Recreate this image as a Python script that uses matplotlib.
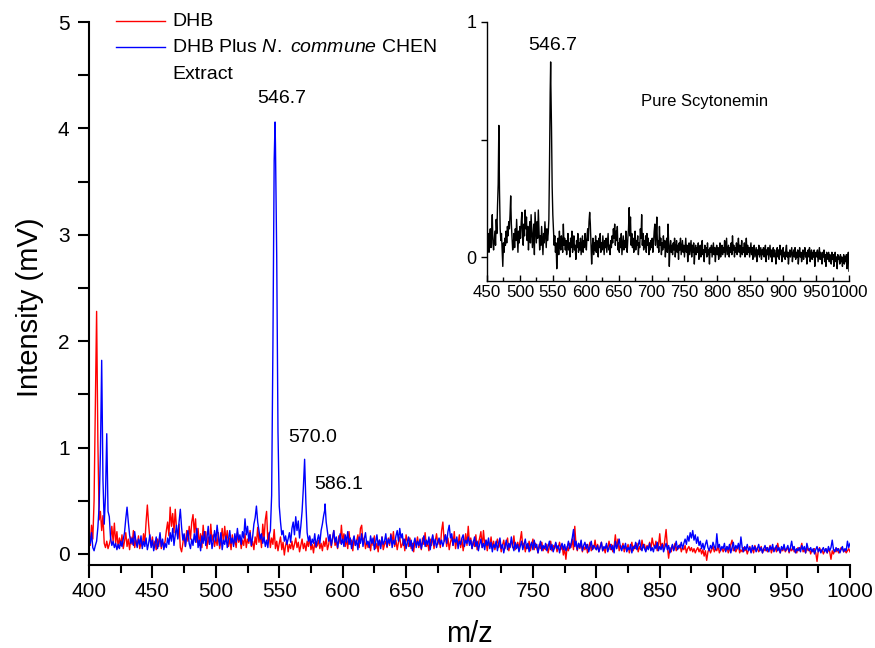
import matplotlib
matplotlib.use("Agg")
import matplotlib.pyplot as plt
from matplotlib.lines import Line2D
from matplotlib.ticker import MultipleLocator, FixedLocator
import numpy as np

plt.rcParams['font.family'] = ['Liberation Sans', 'DejaVu Sans']
plt.rcParams['mathtext.fontset'] = 'custom'
plt.rcParams['mathtext.rm'] = 'Liberation Sans'
plt.rcParams['mathtext.it'] = 'Liberation Sans:italic'

# MALDI spectra, intensity in mV, one value per m/z unit starting at the given m/z
DHB_START = 400
dhb = [
    0.20, 0.08, 0.27, 0.14, 0.50, 1.40, 2.28, 1.05, 0.32, 0.40, 0.22, 0.36, 0.10, 0.06, 0.12, 0.05, 0.09, 0.14, 0.26, 0.12,
    0.29, 0.10, 0.21, 0.06, 0.15, 0.08, 0.18, 0.05, 0.12, 0.20, 0.07, 0.14, 0.04, 0.16, 0.09, 0.22, 0.06, 0.13, 0.08, 0.17,
    0.05, 0.11, 0.07, 0.19, 0.10, 0.30, 0.46, 0.28, 0.14, 0.08, 0.16, 0.06, 0.12, 0.04, 0.14, 0.07, 0.18, 0.05, 0.11, 0.08,
    0.12, 0.22, 0.30, 0.17, 0.44, 0.26, 0.38, 0.20, 0.42, 0.24, 0.15, 0.28, 0.06, 0.02, 0.10, 0.18, 0.07, 0.22, 0.12, 0.26,
    0.14, 0.30, 0.37, 0.20, 0.33, 0.11, 0.24, 0.08, 0.19, 0.06, 0.27, 0.13, 0.21, 0.05, 0.16, 0.09, 0.28, 0.12, 0.18, 0.07,
    0.15, 0.08, 0.20, 0.05, 0.13, 0.24, 0.10, 0.26, 0.12, 0.22, 0.07, 0.15, 0.04, 0.18, 0.09, 0.14, 0.06, 0.20, 0.11, 0.16,
    0.05, 0.13, 0.08, 0.19, 0.06, 0.14, 0.10, 0.22, 0.07, 0.12, 0.04, 0.16, 0.09, 0.25, 0.11, 0.18, 0.06, 0.28, 0.14, 0.32,
    0.40, 0.12, 0.20, 0.06, 0.15, 0.09, 0.23, 0.05, 0.12, 0.03, 0.10, 0.16, 0.04, 0.11, -0.01, 0.08, 0.13, 0.02, 0.09, 0.05,
    0.12, 0.04, 0.09, 0.15, 0.06, 0.11, 0.02, 0.08, 0.14, 0.05, 0.10, 0.03, 0.12, 0.07, 0.16, 0.04, 0.09, 0.01, 0.11, 0.06,
    0.08, 0.13, 0.05, 0.10, 0.03, 0.12, 0.07, 0.15, 0.04, 0.09, 0.18, 0.06, 0.14, 0.22, 0.08, 0.12, 0.05, 0.17, 0.10, 0.27,
    0.11, 0.19, 0.07, 0.14, 0.05, 0.21, 0.09, 0.13, 0.03, 0.16, 0.08, 0.12, 0.18, 0.06, 0.24, 0.27, 0.10, 0.15, 0.05, 0.12,
    0.06, 0.11, 0.03, 0.14, 0.08, 0.17, 0.05, 0.10, 0.02, 0.13, 0.07, 0.16, 0.04, 0.09, 0.12, 0.06, 0.15, 0.08, 0.19, 0.10,
    0.21, 0.07, 0.13, 0.04, 0.11, 0.16, 0.06, 0.09, 0.14, 0.03, 0.18, 0.12, 0.07, 0.15, 0.05, 0.10, 0.02, 0.13, 0.08, 0.16,
    0.06, 0.12, 0.04, 0.15, 0.09, 0.20, 0.07, 0.11, 0.03, 0.14, 0.08, 0.17, 0.05, 0.12, 0.19, 0.09, 0.14, 0.06, 0.22, 0.30,
    0.12, 0.18, 0.07, 0.15, 0.04, 0.11, 0.16, 0.08, 0.21, 0.05, 0.13, 0.09, 0.18, 0.06, 0.14, 0.03, 0.11, 0.19, 0.08, 0.26,
    0.10, 0.15, 0.05, 0.12, 0.07, 0.18, 0.04, 0.10, 0.15, 0.21, 0.06, 0.22, 0.09, 0.13, 0.03, 0.11, 0.07, 0.16, 0.05, 0.12,
    0.04, 0.09, 0.14, 0.06, 0.11, 0.02, 0.08, 0.13, 0.05, 0.10, 0.15, 0.03, 0.09, 0.12, 0.06, 0.17, 0.04, 0.08, 0.11, 0.05,
    0.13, 0.21, 0.07, 0.10, 0.02, 0.09, 0.05, 0.12, 0.03, 0.08, 0.14, 0.04, 0.10, 0.06, 0.01, 0.09, 0.05, 0.11, 0.03, 0.07,
    0.04, 0.09, 0.01, 0.07, 0.12, 0.03, 0.08, 0.05, 0.10, 0.02, 0.06, 0.11, 0.04, 0.08, -0.01, 0.05, -0.05, 0.07, 0.03, 0.10,
    0.06, 0.14, 0.04, 0.26, 0.08, 0.03, 0.10, 0.05, 0.12, 0.02, 0.07, 0.04, 0.09, 0.01, 0.06, 0.11, 0.03, 0.08, 0.05, 0.13,
    0.04, 0.09, 0.02, 0.07, 0.11, 0.03, 0.06, 0.01, 0.08, 0.05, 0.12, 0.04, 0.09, 0.02, 0.07, 0.18, 0.05, 0.14, 0.03, 0.08,
    0.05, 0.10, 0.02, 0.07, 0.04, 0.09, 0.01, 0.06, 0.11, 0.03, 0.08, 0.05, 0.10, 0.02, 0.07, 0.04, 0.13, 0.06, 0.09, 0.03,
    0.08, 0.05, 0.11, 0.04, 0.15, 0.09, 0.06, 0.12, 0.03, 0.08, 0.19, 0.05, 0.10, 0.04, 0.13, 0.23, 0.07, -0.04, 0.06, 0.02,
    0.08, 0.04, 0.10, 0.03, 0.07, 0.05, 0.09, 0.02, 0.06, 0.04, 0.08, 0.01, 0.05, 0.07, 0.03, 0.06, 0.02, 0.05, 0.01, 0.04,
    0.06, 0.02, 0.05, 0.00, 0.04, -0.02, 0.03, -0.06, 0.02, 0.05, 0.01, 0.04, 0.07, 0.02, 0.05, 0.03, 0.08, 0.01, 0.04, 0.06,
    0.02, 0.05, 0.03, 0.07, 0.01, 0.04, 0.09, 0.13, 0.03, 0.06, 0.02, 0.05, 0.08, 0.01, 0.04, 0.02, 0.06, 0.03, 0.05, 0.00,
    0.04, 0.07, 0.02, 0.05, 0.01, 0.08, 0.03, 0.06, 0.02, 0.04, 0.07, 0.01, 0.05, 0.03, 0.06, 0.02, 0.04, 0.08, 0.01, 0.05,
    0.03, 0.06, 0.02, 0.10, 0.04, 0.01, 0.05, 0.03, 0.07, 0.02, 0.04, 0.06, 0.01, 0.05, 0.03, 0.07, 0.02, 0.04, 0.01, 0.06,
    0.03, 0.05, 0.10, 0.02, 0.04, 0.01, 0.06, 0.03, 0.05, 0.00, 0.04, 0.02, 0.05, 0.01, -0.07, 0.03, 0.06, 0.02, 0.04, 0.00,
    0.03, 0.05, 0.01, 0.04, 0.02, -0.05, 0.03, 0.00, 0.04, 0.02, 0.05, 0.01, 0.03, 0.06, 0.05, 0.02, 0.04, 0.01, 0.03, 0.05,
    0.02,
]

EXTRACT_START = 400
dhb_extract = [
    0.16, 0.10, 0.20, 0.06, 0.03, 0.08, 0.12, 0.25, 0.45, 0.95, 1.82, 0.70, 0.28, 0.55, 1.13, 0.40, 0.35, 0.15, 0.08, 0.12,
    0.06, 0.10, 0.04, 0.09, 0.05, 0.12, 0.07, 0.14, 0.20, 0.33, 0.44, 0.30, 0.18, 0.10, 0.15, 0.08, 0.21, 0.12, 0.06, 0.14,
    0.09, 0.17, 0.05, 0.12, 0.07, 0.15, 0.04, 0.10, 0.18, 0.06, 0.13, 0.03, 0.09, 0.16, 0.05, 0.11, 0.20, 0.07, 0.14, 0.04,
    0.10, 0.06, 0.15, 0.09, 0.20, 0.12, 0.24, 0.08, 0.18, 0.27, 0.14, 0.30, 0.42, 0.25, 0.13, 0.19, 0.07, 0.16, 0.22, 0.10,
    0.05, 0.14, 0.08, 0.19, 0.11, 0.24, 0.06, 0.13, 0.03, 0.17, 0.10, 0.21, 0.08, 0.15, 0.26, 0.09, 0.18, 0.05, 0.12, 0.22,
    0.12, 0.27, 0.16, 0.08, 0.20, 0.04, 0.13, 0.09, 0.17, 0.06, 0.14, 0.22, 0.10, 0.15, 0.07, 0.19, 0.11, 0.24, 0.13, 0.18,
    0.09, 0.21, 0.15, 0.33, 0.18, 0.26, 0.12, 0.20, 0.08, 0.16, 0.28, 0.34, 0.45, 0.30, 0.22, 0.14, 0.19, 0.10, 0.16, 0.07,
    0.13, 0.06, 0.18, 0.22, 0.55, 1.95, 3.70, 3.85, 2.80, 1.15, 0.45, 0.30, 0.18, 0.22, 0.12, 0.17, 0.09, 0.14, 0.20, 0.11,
    0.24, 0.30, 0.18, 0.35, 0.22, 0.31, 0.15, 0.26, 0.40, 0.62, 0.89, 0.48, 0.20, 0.12, 0.17, 0.08, 0.14, 0.10, 0.19, 0.07,
    0.13, 0.18, 0.10, 0.22, 0.28, 0.36, 0.42, 0.30, 0.21, 0.12, 0.18, 0.08, 0.15, 0.22, 0.11, 0.16, 0.06, 0.13, 0.19, 0.09,
    0.14, 0.07, 0.18, 0.11, 0.21, 0.09, 0.15, 0.05, 0.12, 0.17, 0.08, 0.13, 0.04, 0.16, 0.10, 0.19, 0.07, 0.14, 0.20, 0.09,
    0.12, 0.06, 0.17, 0.10, 0.15, 0.04, 0.11, 0.18, 0.08, 0.13, 0.05, 0.16, 0.09, 0.12, 0.19, 0.07, 0.14, 0.10, 0.18, 0.06,
    0.13, 0.09, 0.17, 0.22, 0.12, 0.24, 0.15, 0.19, 0.08, 0.14, 0.05, 0.11, 0.16, 0.07, 0.13, 0.03, 0.10, 0.15, 0.06, 0.12,
    0.08, 0.14, 0.05, 0.11, 0.17, 0.07, 0.13, 0.09, 0.16, 0.04, 0.12, 0.18, 0.08, 0.14, 0.06, 0.11, 0.15, 0.09, 0.13, 0.07,
    0.12, 0.18, 0.10, 0.21, 0.27, 0.15, 0.19, 0.08, 0.14, 0.11, 0.16, 0.05, 0.12, 0.09, 0.15, 0.18, 0.07, 0.13, 0.10, 0.16,
    0.08, 0.13, 0.05, 0.11, 0.16, 0.07, 0.12, 0.03, 0.09, 0.14, 0.06, 0.10, 0.04, 0.13, 0.08, 0.15, 0.05, 0.11, 0.02, 0.09,
    0.06, 0.12, 0.03, 0.10, 0.15, 0.05, 0.09, 0.01, 0.07, 0.13, 0.04, 0.10, 0.06, 0.16, 0.08, 0.03, 0.11, 0.05, 0.09, 0.02,
    0.07, 0.12, 0.04, 0.09, 0.14, 0.05, 0.10, 0.02, 0.08, 0.11, 0.04, 0.13, 0.06, 0.09, 0.01, 0.07, 0.12, 0.03, 0.08, 0.05,
    0.10, 0.03, 0.07, 0.12, 0.04, 0.09, 0.02, 0.06, 0.11, 0.05, 0.08, 0.01, 0.07, 0.10, 0.04, 0.09, 0.03, 0.06, 0.12, 0.05,
    0.09, 0.15, 0.23, 0.07, 0.12, 0.04, 0.10, 0.06, 0.13, 0.03, 0.08, 0.11, 0.05, 0.09, 0.02, 0.07, 0.12, 0.04, 0.08, 0.06,
    0.04, 0.08, 0.02, 0.06, 0.11, 0.03, 0.07, 0.05, 0.10, 0.02, 0.06, 0.09, 0.04, 0.08, 0.01, 0.12, 0.05, 0.09, 0.14, 0.06,
    0.03, 0.08, 0.05, 0.10, 0.02, 0.06, 0.04, 0.09, 0.01, 0.07, 0.05, 0.11, 0.04, 0.08, 0.13, 0.06, 0.03, 0.09, 0.05, 0.02,
    0.07, 0.04, 0.10, 0.03, 0.06, 0.02, 0.08, 0.05, 0.11, 0.03, 0.07, 0.04, 0.09, 0.02, 0.06, 0.10, 0.04, 0.08, 0.01, 0.05,
    0.09, 0.03, 0.07, 0.12, 0.04, 0.08, 0.06, 0.11, 0.05, 0.10, 0.14, 0.09, 0.17, 0.12, 0.20, 0.15, 0.22, 0.13, 0.18, 0.10,
    0.16, 0.08, 0.12, 0.05, 0.10, 0.04, 0.09, 0.13, 0.06, 0.03, 0.08, 0.05, 0.11, 0.07, 0.04, 0.19, 0.06, 0.09, 0.03, 0.07,
    0.05, 0.10, 0.02, 0.07, 0.04, 0.09, 0.01, 0.06, 0.11, 0.03, 0.08, 0.05, 0.10, 0.04, 0.16, 0.06, 0.02, 0.07, 0.04, 0.09,
    0.03, 0.06, 0.01, 0.08, 0.04, 0.07, 0.02, 0.05, 0.09, 0.03, 0.06, 0.01, 0.05, 0.08, 0.03, 0.06, 0.02, 0.07, 0.04, 0.09,
    0.02, 0.05, 0.08, 0.03, 0.06, 0.01, 0.07, 0.04, 0.09, 0.03, 0.05, 0.08, 0.02, 0.06, 0.12, 0.04, 0.07, 0.01, 0.05, 0.03,
    0.06, 0.02, 0.08, 0.04, 0.07, 0.01, 0.10, 0.05, 0.03, 0.06, 0.02, 0.05, 0.00, 0.04, 0.07, 0.02, 0.05, 0.01, 0.04, 0.06,
    0.02, 0.05, 0.01, 0.07, 0.03, 0.06, 0.13, 0.04, 0.02, 0.06, 0.03, 0.05, 0.01, 0.04, 0.07, 0.02, 0.05, 0.03, 0.12, 0.06,
    0.10,
]
# labelled peak apexes of the extract spectrum
extract_peak_mz = [546.7, 570.0, 586.1]
extract_peak_int = [4.06, 0.89, 0.47]

PURE_START = 450
pure_scytonemin = [
    0.15, 0.05, 0.10, 0.02, 0.08, 0.12, 0.04, 0.09, 0.18, 0.06, 0.03, 0.07, 0.11, 0.05, 0.16, 0.10, 0.22, 0.31, 0.56, 0.28,
    0.12, 0.07, 0.10, 0.03, -0.04, 0.06, 0.02, 0.08, 0.05, 0.11, 0.06, 0.13, 0.09, 0.15, 0.12, 0.18, 0.26, 0.14, 0.08, 0.03,
    0.05, 0.10, 0.04, 0.12, 0.07, 0.16, 0.09, 0.02, 0.11, 0.06, 0.13, 0.08, 0.15, 0.19, 0.10, 0.05, 0.14, 0.09, 0.20, 0.12,
    0.17, 0.07, 0.13, 0.03, 0.10, 0.15, 0.06, 0.18, 0.11, 0.04, 0.09, 0.14, 0.01, 0.19, 0.12, 0.06, 0.15, 0.08, 0.20, 0.11,
    0.03, 0.09, 0.05, 0.13, 0.07, 0.01, 0.10, 0.06, 0.15, 0.09, 0.04, 0.12, 0.07, 0.10, 0.16, 0.40, 0.70, 0.74, 0.55, 0.30,
    0.18, 0.12, 0.05, 0.09, 0.02, 0.06, -0.05, 0.04, 0.08, 0.01, 0.11, 0.05, 0.03, 0.09, 0.06, 0.02, 0.14, 0.05, 0.08, 0.03,
    0.07, 0.01, 0.05, 0.10, 0.03, 0.06, 0.00, 0.08, 0.04, 0.11, 0.02, 0.06, 0.09, 0.03, 0.05, -0.01, 0.07, 0.04, 0.10, 0.02,
    0.06, 0.03, 0.08, 0.01, 0.05, 0.09, 0.02, 0.07, 0.04, 0.10, 0.06, 0.03, 0.09, 0.12, 0.07, 0.15, 0.19, 0.14, 0.05, -0.03,
    0.04, 0.08, 0.01, 0.06, 0.03, 0.09, 0.02, 0.07, 0.05, 0.00, 0.08, 0.04, 0.10, 0.02, 0.06, 0.03, 0.09, 0.05, 0.01, 0.07,
    0.04, 0.08, 0.02, 0.06, 0.10, 0.03, 0.05, 0.01, 0.07, 0.04, 0.09, 0.06, 0.12, 0.08, 0.14, 0.05, 0.11, 0.07, 0.13, 0.03,
    0.06, 0.02, 0.08, 0.04, 0.10, 0.01, 0.05, 0.09, 0.03, 0.07, 0.04, 0.11, 0.06, 0.02, 0.08, 0.12, 0.21, 0.09, 0.17, 0.05,
    0.10, 0.04, 0.08, 0.02, 0.06, 0.11, 0.03, 0.07, 0.05, 0.09, 0.01, 0.06, 0.04, 0.12, 0.08, 0.18, 0.05, 0.10, 0.03, 0.07,
    0.04, 0.09, 0.02, 0.10, 0.05, 0.08, 0.01, 0.06, 0.03, 0.07, 0.04, 0.08, 0.02, 0.06, 0.11, 0.14, 0.05, 0.09, 0.17, 0.04,
    0.07, 0.02, 0.13, 0.05, 0.08, 0.01, 0.06, 0.03, 0.09, 0.04, 0.07, 0.00, 0.05, 0.08, 0.02, 0.14, 0.06, -0.04, 0.04, 0.07,
    0.02, 0.05, 0.01, 0.06, 0.03, 0.08, 0.00, 0.04, 0.07, 0.02, 0.05, -0.01, 0.06, 0.03, 0.08, 0.01, 0.04, 0.07, 0.02, 0.05,
    0.00, 0.04, 0.08, 0.02, 0.05, -0.02, 0.03, 0.06, 0.01, 0.04, 0.07, 0.00, 0.05, 0.02, 0.06, -0.03, 0.03, 0.05, 0.01, 0.04,
    0.02, 0.06, -0.01, 0.03, 0.05, 0.00, 0.04, 0.07, 0.01, 0.03, -0.02, 0.05, 0.02, 0.04, 0.00, 0.06, 0.01, 0.03, -0.03, 0.04,
    0.02, 0.05, 0.00, 0.03, 0.06, 0.01, 0.04, -0.02, 0.03, 0.05, 0.01, 0.04, -0.01, 0.02, 0.06, 0.00, 0.03, 0.05, 0.01, 0.04,
    0.02, 0.07, 0.00, 0.04, 0.08, 0.01, 0.03, 0.05, 0.00, 0.04, 0.02, 0.06, 0.01, 0.09, 0.03, 0.05, 0.00, 0.04, 0.02, 0.06,
    0.01, 0.04, 0.08, 0.02, 0.05, 0.00, 0.03, 0.07, 0.01, 0.04, 0.02, 0.06, 0.00, 0.03, 0.08, 0.01, 0.05, 0.02, 0.04, 0.00,
    0.03, 0.06, 0.01, 0.04, -0.01, 0.03, 0.05, 0.00, 0.02, 0.04, -0.02, 0.03, 0.01, 0.05, 0.00, 0.02, 0.04, -0.01, 0.03, 0.01,
    0.04, 0.00, 0.02, 0.05, -0.02, 0.03, 0.01, 0.04, -0.01, 0.02, 0.05, 0.00, 0.03, -0.02, 0.02, 0.04, 0.00, 0.03, 0.01, -0.03,
    0.02, 0.04, 0.00, 0.03, -0.01, 0.05, 0.01, 0.03, -0.02, 0.02, 0.04, 0.00, 0.02, -0.01, 0.03, 0.05, 0.00, 0.02, -0.03, 0.01,
    0.03, 0.00, 0.02, 0.04, -0.02, 0.01, 0.03, 0.00, 0.04, -0.01, 0.02, 0.00, 0.03, -0.03, 0.01, 0.04, 0.00, 0.02, -0.02, 0.01,
    0.03, -0.01, 0.02, 0.04, 0.00, 0.02, -0.03, 0.01, 0.03, 0.00, 0.04, -0.02, 0.01, 0.03, -0.01, 0.02, 0.00, 0.03, -0.04, 0.01,
    0.02, 0.00, 0.03, -0.02, 0.01, 0.04, -0.01, 0.02, 0.00, -0.03, 0.02, 0.00, 0.03, -0.02, 0.01, -0.04, 0.02, 0.00, -0.01, 0.02,
    -0.02, 0.01, 0.00, -0.03, 0.02, -0.01, 0.01, -0.04, 0.00, 0.02, -0.02, 0.00, -0.05, 0.01, -0.01, 0.00, -0.03, 0.01, -0.02, 0.00,
    -0.04, -0.01, 0.01, -0.03, 0.00, -0.02, 0.01, -0.05, 0.00, 0.02, -0.06,
]
pure_peak_mz = [546.7]
pure_peak_int = [0.83]

assert len(dhb) == 601 and len(dhb_extract) == 601 and len(pure_scytonemin) == 551


def spectrum(start, values, peak_mz=(), peak_int=()):
    """Merge the unit-spaced trace with the labelled apex points."""
    points = {float(start + i): v for i, v in enumerate(values)}
    points.update(zip(peak_mz, peak_int))
    mz = np.array(sorted(points))
    return mz, np.array([points[m] for m in mz])


W, H = 875, 648
fig = plt.figure(figsize=(W / 100, H / 100), dpi=100)

# ---- main spectrum ----
ax = fig.add_axes([89 / W, 1 - 564.6 / H, 761 / W, 542.6 / H])
mz_r, int_r = spectrum(DHB_START, dhb)
mz_b, int_b = spectrum(EXTRACT_START, dhb_extract, extract_peak_mz, extract_peak_int)
ax.plot(mz_r, int_r, color='#ff0000', lw=1.0)
ax.plot(mz_b, int_b, color='#0000ff', lw=1.0)

ax.set_xlim(400, 1000)
ax.set_ylim(-0.1, 5)
for side in ('top', 'right'):
    ax.spines[side].set_visible(False)
for side in ('left', 'bottom'):
    ax.spines[side].set_linewidth(1.5)
ax.xaxis.set_major_locator(MultipleLocator(50))
ax.xaxis.set_minor_locator(MultipleLocator(25))
ax.yaxis.set_major_locator(MultipleLocator(1))
ax.yaxis.set_minor_locator(MultipleLocator(0.5))
ax.tick_params(axis='x', which='major', direction='out', length=9, width=1.5,
               labelsize=15, pad=3.5)
ax.tick_params(axis='x', which='minor', direction='out', length=5.5, width=1.5)
ax.tick_params(axis='y', which='major', direction='out', length=8, width=1.5,
               labelsize=15, pad=6)
ax.tick_params(axis='y', which='minor', direction='out', length=8, width=1.5)

fig.text(469.5 / W, 1 - 634 / H, 'm/z', ha='center', va='center', fontsize=21)
fig.text(30 / W, 1 - 307 / H, 'Intensity (mV)', ha='center', va='center',
         rotation=90, fontsize=21)

label_offsets = [(5, 17), (5.5, 15.5), (10, 14)]
for m, v, off in zip(extract_peak_mz, extract_peak_int, label_offsets):
    ax.annotate(f'{m:.1f}', xy=(m, v), xytext=off, textcoords='offset points',
                ha='center', va='center', fontsize=14)

# legend
legend_rows = [('#ff0000', 'DHB', 20.7, 21.5),
               ('#0000ff', r'DHB Plus $\mathit{N.\ commune}$ CHEN', 46.7, 47.5)]
for color, text, y_line, y_text in legend_rows:
    fig.add_artist(Line2D([116 / W, 165 / W], [1 - y_line / H] * 2, color=color, lw=1.0))
    fig.text(172.5 / W, 1 - y_text / H, text, ha='left', va='center', fontsize=14)
fig.text(172.5 / W, 1 - 74.5 / H, 'Extract', ha='left', va='center', fontsize=14)

# ---- inset: pure scytonemin ----
ins = fig.add_axes([487 / W, 1 - 280.5 / H, 362 / W, 258.5 / H])
mz_p, int_p = spectrum(PURE_START, pure_scytonemin, pure_peak_mz, pure_peak_int)
ins.plot(mz_p, int_p, color='black', lw=1.0)
ins.set_xlim(450, 1000)
ins.set_ylim(-0.1, 1)
ins.patch.set_alpha(0)
for side in ('top', 'right'):
    ins.spines[side].set_visible(False)
for side in ('left', 'bottom'):
    ins.spines[side].set_linewidth(1.0)
ins.xaxis.set_major_locator(MultipleLocator(50))
ins.xaxis.set_minor_locator(MultipleLocator(25))
ins.yaxis.set_major_locator(FixedLocator([0, 1]))
ins.yaxis.set_minor_locator(FixedLocator([0.5]))
ins.tick_params(axis='x', which='major', direction='in', length=4, width=1.0,
                labelsize=12.2, pad=3.5)
ins.tick_params(axis='x', which='minor', direction='in', length=3, width=1.0)
ins.tick_params(axis='y', which='major', direction='out', length=4.5, width=1.0,
                labelsize=13, pad=3)
ins.tick_params(axis='y', which='minor', direction='out', length=4.5, width=1.0)

for m, v in zip(pure_peak_mz, pure_peak_int):
    ins.annotate(f'{m:.1f}', xy=(m, v), xytext=(1.5, 12), textcoords='offset points',
                 ha='center', va='center', fontsize=14)
ins.text(0.602, 0.692, 'Pure Scytonemin', transform=ins.transAxes,
         ha='center', va='center', fontsize=12)

fig.savefig('out.png', dpi=100)
